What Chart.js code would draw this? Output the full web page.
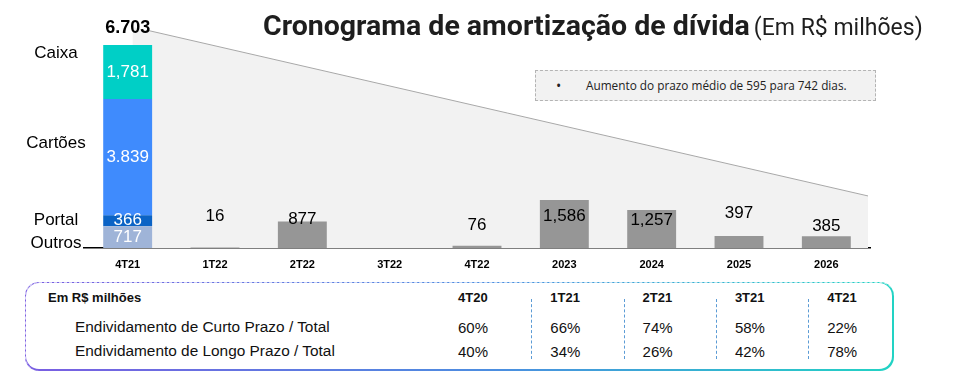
<!DOCTYPE html>
<html>
<head>
<meta charset="utf-8">
<script src="https://cdn.jsdelivr.net/npm/chart.js@4.4.1/dist/chart.umd.min.js"></script>
<style>
  body { margin: 0; width: 961px; height: 387px; background: #fff; position: relative; overflow: hidden; font-family: "Liberation Sans", Arial, sans-serif; }
  #chartBox { position: absolute; left: 0; top: 0; width: 961px; height: 280px; }
  #title { position: absolute; left: 263px; top: 9px; white-space: nowrap; color: #1e1e1e; font-family: Roboto, sans-serif; }
  #title b { font-weight: 700; font-size: 28.5px; }
  #title span { font-weight: 400; font-size: 23px; }
  #note { position: absolute; left: 535px; top: 70px; width: 341px; height: 31px; box-sizing: border-box; border: 1px dashed #b4b4b4; background: #f2f2f2; font-family: "Open Sans", sans-serif; font-size: 11.8px; line-height: 29px; color: #222; white-space: nowrap; }
  #note .dot { position: absolute; left: 20px; font-size: 14px; }
  #note .txt { position: absolute; left: 50px; }
  #tbl { position: absolute; left: 25px; top: 282px; width: 869px; height: 89px; box-sizing: border-box; border-radius: 14px; padding: 1px 2px 2px 1px; background: linear-gradient(90deg, #7a5ee2, #4b8fe0 55%, #22d3c4); }
  #tblIn { position: relative; width: 100%; height: 100%; background: #fff; border-radius: 13px; }
  #tblDash { position: absolute; left: 0; top: 0; right: 0; bottom: 0; border-radius: 14px; border-top: 1px dashed rgba(255,255,255,0.7); border-left: 1px dashed rgba(255,255,255,0.7); pointer-events: none; }
  .cell { position: absolute; white-space: nowrap; color: #111; transform: translateY(-50%); }
  .hd { font-weight: 700; font-size: 13px; }
  .rw { font-size: 15px; }
  .lbl { font-size: 15.4px; }
  .sep { position: absolute; top: 16px; height: 60px; border-left: 1px dashed #5b9bd5; }
</style>
</head>
<body>
<div id="chartBox"><canvas id="debtChart" width="961" height="280"></canvas></div>
<div id="title"><b>Cronograma de amortização de dívida</b> <span>(Em R$ milhões)</span></div>
<div id="note"><span class="dot">•</span><span class="txt">Aumento do prazo médio de 595 para 742 dias.</span></div>
<div id="tbl"><div id="tblIn"></div><div id="tblDash"></div></div>
<script>
// chart data
const periods = ['4T21', '1T22', '2T22', '3T22', '4T22', '2023', '2024', '2025', '2026'];
const cashParts = ['Outros', 'Portal', 'Cartões', 'Caixa'];
const cashValues = [717, 366, 3839, 1781];
const cashLabels = ['717', '366', '3.839', '1,781'];
const cashTotalLabel = '6.703';
const dueValues = [null, 16, 877, null, 76, 1586, 1257, 397, 385];
const dueLabels = ['', '16', '877', '', '76', '1,586', '1,257', '397', '385'];

// table data
const tablePeriods = ['4T20', '1T21', '2T21', '3T21', '4T21'];
const tableRows = ['Endividamento de Curto Prazo / Total', 'Endividamento de Longo Prazo / Total'];
const shortTerm = [60, 66, 74, 58, 22];
const longTerm = [40, 34, 26, 42, 78];

const cashColors = ['#9fb4d8', '#0b63c5', '#3f8bfd', '#00cfc6'];
const dueColor = '#969696';

Chart.defaults.font.family = '"Liberation Sans", Arial, sans-serif';
Chart.defaults.color = '#000';

function sumArr(a) { return a.reduce((s, v) => s + v, 0); }

// gray triangle behind the bars
const shadePlugin = {
  id: 'shade',
  beforeDatasetsDraw(chart) {
    const { ctx, chartArea, scales: { x, y } } = chart;
    const total = sumArr(cashValues);
    const xa = x.getPixelForValue(0) + 19;
    const ya = y.getPixelForValue(total * 1.074);
    const xb = chartArea.right - 2;
    const yb = y.getPixelForValue(1720);
    const slope = (yb - ya) / (xb - xa);
    const x0 = x.getPixelForValue(0) + 5;
    const base = y.getPixelForValue(0);
    ctx.save();
    ctx.fillStyle = '#f2f2f2';
    ctx.beginPath();
    ctx.moveTo(x0, ya + slope * (x0 - xa));
    ctx.lineTo(xb, yb);
    ctx.lineTo(xb, base);
    ctx.lineTo(x0, base);
    ctx.closePath();
    ctx.fill();
    ctx.strokeStyle = '#a8a8a8';
    ctx.lineWidth = 1;
    ctx.beginPath();
    ctx.moveTo(xa, ya);
    ctx.lineTo(xb, yb);
    ctx.stroke();
    ctx.restore();
  }
};

const labelPlugin = {
  id: 'valueLabels',
  afterDatasetsDraw(chart, args, opts) {
    const { ctx, chartArea } = chart;
    ctx.save();
    ctx.textAlign = 'center';
    ctx.textBaseline = 'middle';
    // stacked cash segments
    cashValues.forEach((v, i) => {
      const bar = chart.getDatasetMeta(i).data[0];
      const mid = (bar.y + bar.base) / 2;
      ctx.font = '17px "Liberation Sans", Arial, sans-serif';
      ctx.fillStyle = '#fff';
      ctx.fillText(cashLabels[i], bar.x, mid);
      ctx.fillStyle = '#000';
      ctx.fillText(cashParts[i], chartArea.left - 28, mid + opts.partOffsets[i]);
    });
    const top = chart.getDatasetMeta(cashValues.length - 1).data[0];
    ctx.font = 'bold 18px "Liberation Sans", Arial, sans-serif';
    ctx.fillText(cashTotalLabel, top.x, top.y - 17);
    // maturities
    const meta = chart.getDatasetMeta(cashValues.length);
    ctx.font = '17px "Liberation Sans", Arial, sans-serif';
    meta.data.forEach((bar, i) => {
      if (dueValues[i] == null) return;
      ctx.fillText(dueLabels[i], bar.x, bar.y + opts.dueOffsets[i]);
    });
    ctx.restore();
  }
};

const datasets = cashValues.map((v, i) => ({
  label: cashParts[i],
  data: periods.map((p, j) => (j === 0 ? v : null)),
  backgroundColor: cashColors[i]
}));
datasets.push({ label: 'Amortização', data: dueValues, backgroundColor: dueColor });

new Chart(document.getElementById('debtChart'), {
  type: 'bar',
  data: { labels: periods, datasets: datasets },
  options: {
    responsive: false,
    animation: false,
    barPercentage: 0.56,
    categoryPercentage: 1,
    layout: { padding: { left: 84, right: 91, top: 21, bottom: 0 } },
    plugins: {
      legend: { display: false },
      tooltip: { enabled: false },
      valueLabels: {
        partOffsets: [6, 0, -14, -19],
        dueOffsets: [0, -31, -2, 0, -20, 16, 10, -23, -10]
      }
    },
    scales: {
      x: {
        stacked: true,
        grid: { display: false, drawTicks: false },
        border: { color: '#000', width: 1.5 },
        ticks: { color: '#000', padding: 10, font: { size: 11, weight: 'bold' } },
        afterFit: s => { s.height = 32; }
      },
      y: { stacked: true, display: false, min: 0, max: 7500 }
    }
  },
  plugins: [shadePlugin, labelPlugin]
});

// table below the chart
const tblIn = document.getElementById('tblIn');
function addCell(text, cls, x, y) {
  const d = document.createElement('div');
  d.className = 'cell ' + cls;
  d.textContent = text;
  d.style.left = x + 'px';
  d.style.top = y + 'px';
  tblIn.appendChild(d);
}
const colX = i => 432 + i * 92.3;
addCell('Em R$ milhões', 'hd', 22, 14);
tablePeriods.forEach((p, i) => {
  addCell(p, 'hd', colX(i), 14);
  addCell(shortTerm[i] + '%', 'rw', colX(i), 44);
  addCell(longTerm[i] + '%', 'rw', colX(i), 68);
  if (i > 0) {
    const s = document.createElement('div');
    s.className = 'sep';
    s.style.left = (colX(i) - 19) + 'px';
    tblIn.appendChild(s);
  }
});
addCell(tableRows[0], 'lbl', 49, 44);
addCell(tableRows[1], 'lbl', 49, 68);
</script>
</body>
</html>
